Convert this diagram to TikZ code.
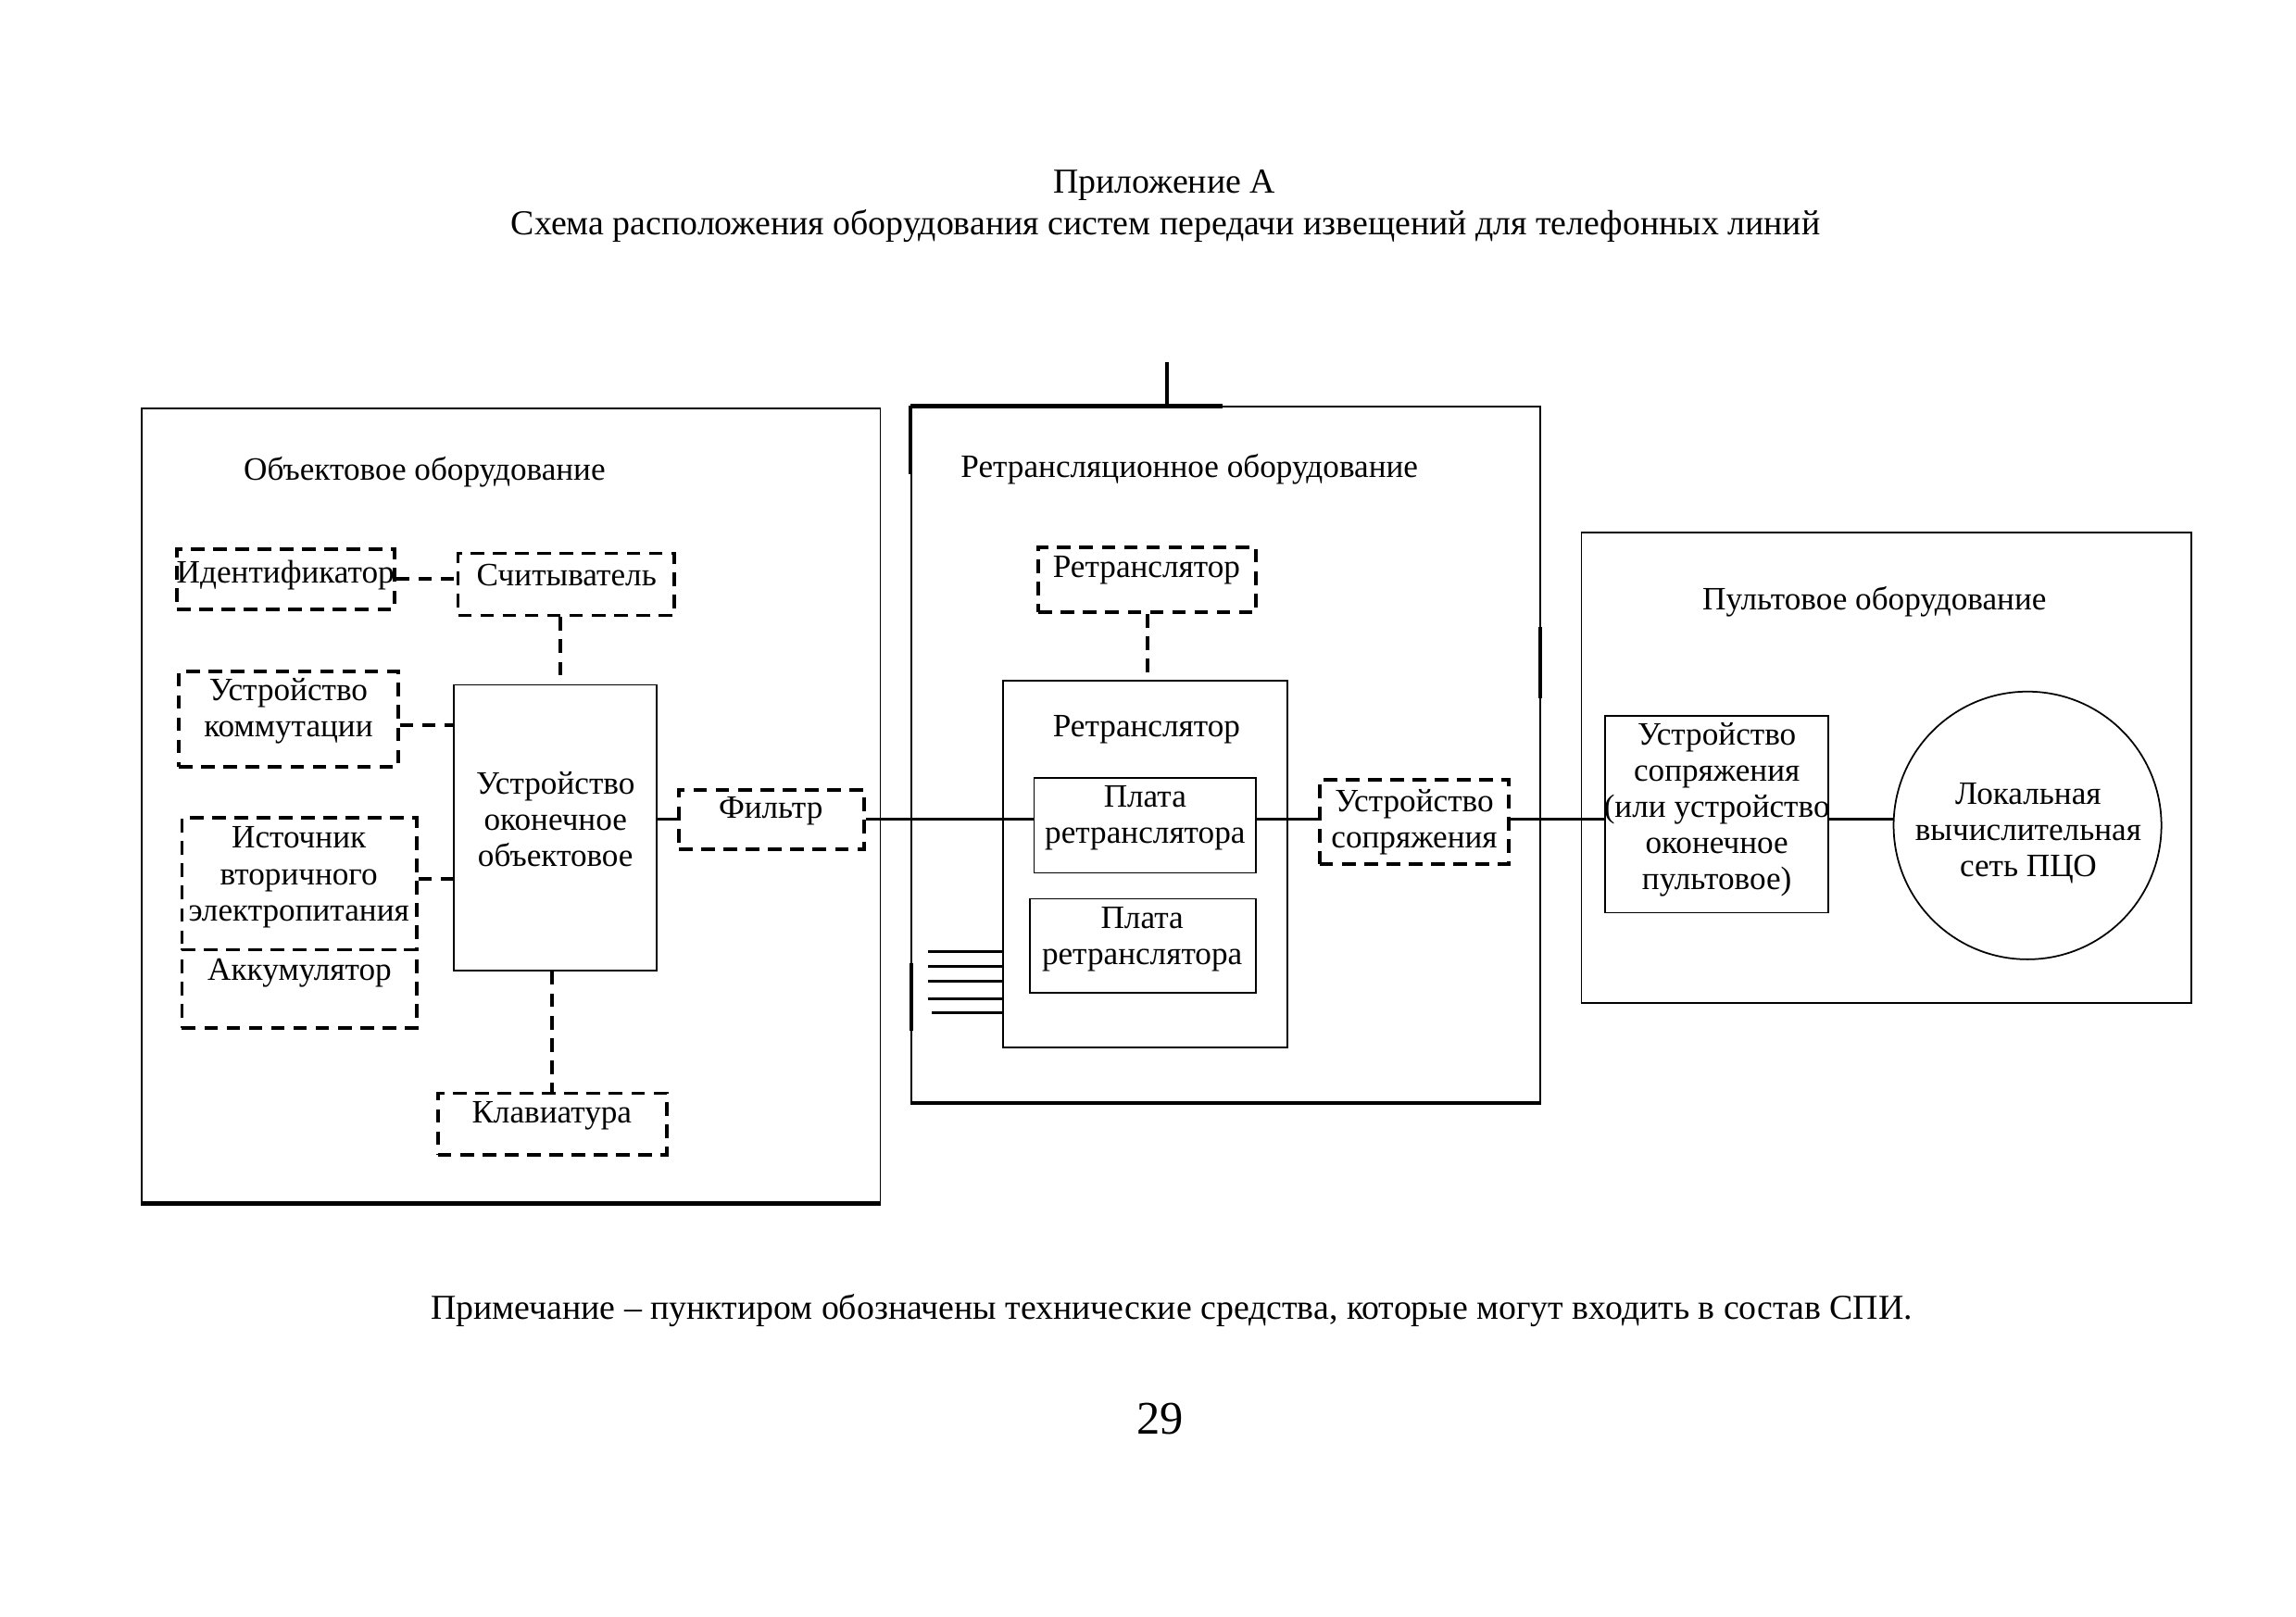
\documentclass[tikz,border=0pt]{standalone}
\usepackage{fontspec}
\setmainfont{Liberation Serif}
\usetikzlibrary{fit}
\begin{document}
\begin{tikzpicture}[x=0.19137mm,y=-0.19137mm,
  every node/.style={font=\fontsize{12}{13.3}\selectfont, align=center},
  frame/.style={draw, line width=0.6pt, inner sep=0pt},
  thk/.style={line width=1.5pt},
  sbox/.style={draw, line width=0.6pt, inner sep=0pt},
  dbox/.style={draw, line width=1.3pt, dash pattern=on 5pt off 3.2pt, inner sep=0pt},
  dline/.style={line width=1.3pt, dash pattern=on 5pt off 3.2pt},
  sline/.style={line width=1.0pt},
  txt/.style={inner sep=0pt},
  big/.style={font=\fontsize{12.9}{14}\selectfont}]
\fill[white] (0,0) rectangle (1552,1093);
\useasboundingbox (0,0) rectangle (1552,1093);

% titles
\node[txt, big] (title1) at (787,125.5) {Приложение А};
\node[txt, big] (title2) at (788,152.5) {Схема расположения оборудования систем передачи извещений для телефонных линий};
\node[txt, big] (note) at (792,886) {Примечание -- пунктиром обозначены технические средства, которые могут входить в состав СПИ.};
\node[txt, font=\fontsize{17.2}{19}\selectfont] (pnum) at (784,959) {29};

% frames
\node[frame, fit={(96,276) (595,813)}] (objf) {};
\node[frame, fit={(616,275) (1041,745)}] (retf) {};
\node[frame, fit={(1069,360) (1481,678)}] (pultf) {};
\draw[thk] (objf.south west) -- (objf.south east);
\draw[thk] (retf.south west) -- (retf.south east);
\draw[thk] (retf.north west) -- ([xshift=211*0.19137mm]retf.north west);
\coordinate (tick) at (789,245);
\draw[thk] (tick) -- (tick |- retf.north);
\draw[thk] (retf.north west) -- ([yshift=-46*0.19137mm]retf.north west);
\coordinate (lthk) at (616,651);
\draw[thk] (lthk) -- ++(0,46);
\coordinate (rthk) at (1041,424);
\draw[thk] (rthk) -- ++(0,48);

\node[txt] (objl) at (287,319) {Объектовое оборудование};
\node[txt] (retl) at (804,317) {Ретрансляционное оборудование};
\node[txt] (pultl) at (1267,407) {Пультовое оборудование};

% object equipment
\node[dbox, fit={(119.6,371) (266.5,412)}] (ident) {};
\node[txt] (identt) at (193,389) {Идентификатор};
\node[dbox, fit={(309.6,374) (455.6,416)}] (schit) {};
\node[txt] (schitt) at (383,389) {Считыватель};
\node[dbox, fit={(121,454) (269,518.6)}] (komm) {};
\node[txt] (kommt) at (195,480.5) {Устройство\\коммутации};
\node[sbox, fit={(307,463) (444,656)}] (okon) {};
\node[txt] (okont) at (375.5,554) {Устройство\\оконечное\\объектовое};
\node[dbox, fit={(123,553) (281.5,642)}] (ist) {};
\node[txt] (istt) at (202,593) {Источник\\вторичного\\электропитания};
\node[dbox, fit={(123,642) (281.5,695)}] (akk) {};
\node[txt] (akkt) at (202.5,658) {Аккумулятор};
\node[dbox, fit={(296,739) (450.6,780.5)}] (klav) {};
\node[txt] (klavt) at (373,754) {Клавиатура};
\node[dbox, fit={(459,534) (584,574)}] (filtr) {};
\node[txt] (filtrt) at (521,548) {Фильтр};

% relay equipment
\node[dbox, fit={(702,370) (849,414)}] (rtrd) {};
\node[txt] (rtrdt) at (775,385.5) {Ретранслятор};
\node[sbox, fit={(678,460) (870,708)}] (rtr) {};
\node[txt] (rtrt) at (775,493) {Ретранслятор};
\node[sbox, fit={(699,526) (849,590)}] (pl1) {};
\node[txt] (pl1t) at (774,553) {Плата\\ретранслятора};
\node[sbox, fit={(696,607.5) (849,671)}] (pl2) {};
\node[txt] (pl2t) at (772,635) {Плата\\ретранслятора};
\node[dbox, fit={(892,527) (1020,584)}] (usop) {};
\node[txt] (usopt) at (956,555.5) {Устройство\\сопряжения};

% console equipment
\node[sbox, fit={(1085,484) (1236,617)}] (usp) {};
\node[txt] (uspt) at (1160.5,547.5) {Устройство\\сопряжения\\(или устройство\\оконечное\\пультовое)};
\node[draw, circle, line width=0.6pt, inner sep=0pt, minimum size=181*0.19137mm] (lvs) at (1370.5,558) {};
\node[txt] (lvst) at (1371,563) {Локальная\\вычислительная\\сеть ПЦО};

% dashed connectors
\draw[dline] (ident.east) -- (ident.east -| schit.west);
\draw[dline] ([xshift=-3.6*0.19137mm]schit.south) -- ([xshift=-3.6*0.19137mm]schit.south |- okon.north);
\draw[dline] ([yshift=-4*0.19137mm]komm.east) -- ([yshift=-4*0.19137mm]komm.east -| okon.west);
\draw[dline] ([yshift=3.5*0.19137mm]ist.east) -- ([yshift=3.5*0.19137mm]ist.east -| okon.west);
\draw[dline] (okon.south -| klav.north) -- (klav.north);
\draw[dline] (rtrd.south) -- (rtrd.south |- rtr.north);

% solid connectors
\draw[sline] (okon.east |- filtr.west) -- (filtr.west);
\draw[sline] (filtr.east) -- (filtr.east -| pl1.west);
\draw[sline] (pl1.east |- filtr.east) -- (filtr.east -| usop.west);
\draw[sline] (usop.east |- filtr.east) -- (filtr.east -| usp.west);
\draw[sline] (usp.east |- filtr.east) -- (filtr.east -| lvs.west);

% input lines
\foreach \i/\yy/\xx in {1/643.4/627, 2/653.3/627, 3/663.2/627, 4/674.9/627, 5/684.8/630} {
  \coordinate (in\i) at (\xx,\yy);
  \draw[sline] (in\i) -- (in\i -| rtr.west);
}
\end{tikzpicture}
\end{document}
